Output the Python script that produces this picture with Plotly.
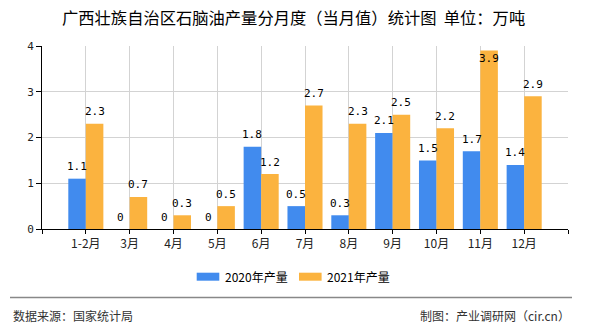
import plotly.graph_objects as go

# ---- data ----
categories = ["1-2月", "3月", "4月", "5月", "6月", "7月", "8月", "9月", "10月", "11月", "12月"]
values_2020 = [1.1, 0, 0, 0, 1.8, 0.5, 0.3, 2.1, 1.5, 1.7, 1.4]
values_2021 = [2.3, 0.7, 0.3, 0.5, 1.2, 2.7, 2.3, 2.5, 2.2, 3.9, 2.9]
series_names = ["2020年产量", "2021年产量"]
y_ticks = [0, 1, 2, 3, 4]

title_text = "广西壮族自治区石脑油产量分月度（当月值）统计图  单位：万吨"
source_text = "数据来源：国家统计局"
credit_text = "制图：产业调研网（cir.cn）"

colors = ["#418BEE", "#FBB33F"]
positions = list(range(1, len(categories) + 1))
Y_MAX = 4

CJK = "Noto Sans CJK SC"
MONO = "DejaVu Sans Mono"

fig = go.Figure()
for name, vals, col in zip(series_names, [values_2020, values_2021], colors):
    fig.add_trace(go.Bar(x=positions, y=vals, name=name, marker=dict(color=col, line=dict(width=0)),
                         showlegend=False, hoverinfo="x+y"))

# value labels
plot_h_px = 183
annotations = []
for k, vals in enumerate([values_2020, values_2021]):
    off = -0.2 if k == 0 else 0.2
    for p, v in zip(positions, vals):
        room = (Y_MAX - v) * plot_h_px / Y_MAX
        shift = 12 if room > 16 else -8
        annotations.append(dict(x=p + off, y=v, xref="x", yref="y", text="{:g}".format(v),
                                showarrow=False, yshift=shift, yanchor="middle",
                                font=dict(family=MONO, size=11, color="#000")))

# title & footer
annotations.append(dict(text=title_text, xref="paper", yref="paper", x=(293.5 - 42) / 526, y=(229 - 17) / 183,
                        xanchor="center", yanchor="middle", showarrow=False,
                        font=dict(family=CJK, size=16.3, color="#000")))
annotations.append(dict(text=source_text, xref="paper", yref="paper", x=(11 - 42) / 526, y=(229 - 315) / 183,
                        xanchor="left", yanchor="middle", showarrow=False,
                        font=dict(family=CJK, size=12, color="#333")))
annotations.append(dict(text=credit_text, xref="paper", yref="paper", x=(572 - 42) / 526, y=(229 - 315) / 183,
                        xanchor="right", yanchor="middle", showarrow=False,
                        font=dict(family=CJK, size=12, color="#333")))

# manual legend
shapes = []
leg_items = [(196.7, 223.0), (299.0, 325.0)]
for (rx, tx), name, col in zip(leg_items, series_names, colors):
    shapes.append(dict(type="rect", xref="paper", yref="paper",
                       x0=(rx - 42) / 526, x1=(rx + 22.6 - 42) / 526,
                       y0=(229 - 280.7) / 183, y1=(229 - 272.7) / 183,
                       fillcolor=col, line=dict(width=0)))
    annotations.append(dict(text=name, xref="paper", yref="paper", x=(tx - 42) / 526, y=(229 - 276.7) / 183,
                            xanchor="left", yanchor="middle", showarrow=False,
                            font=dict(family=CJK, size=12, color="#000")))

# footer separator
shapes.append(dict(type="line", xref="paper", yref="paper",
                   x0=(10 - 42) / 526, x1=(572 - 42) / 526,
                   y0=(229 - 297.5) / 183, y1=(229 - 297.5) / 183,
                   line=dict(color="#888", width=1.5)))

fig.update_layout(
    width=590, height=330,
    margin=dict(l=42, r=22, t=46, b=101, pad=0),
    paper_bgcolor="white", plot_bgcolor="white",
    barmode="group", bargap=0.2, bargroupgap=0,
    annotations=annotations, shapes=shapes,
    showlegend=False,
    xaxis=dict(range=[0, len(categories) + 1],
               tickmode="array", tickvals=[0] + positions + [len(categories) + 1],
               ticktext=[""] + categories + [""],
               showgrid=True, gridcolor="#D3D3D3", gridwidth=1,
               showline=True, linecolor="#000", linewidth=1,
               ticks="outside", ticklen=4, tickcolor="#000",
               tickfont=dict(family=CJK, size=12, color="#222"),
               zeroline=False, fixedrange=True),
    yaxis=dict(range=[0, Y_MAX], tickmode="array", tickvals=y_ticks,
               showgrid=True, gridcolor="#D3D3D3", gridwidth=1,
               showline=True, linecolor="#000", linewidth=1,
               ticks="outside", ticklen=5, tickcolor="#000",
               tickfont=dict(family=MONO, size=11, color="#222"),
               zeroline=False, fixedrange=True),
)

fig.write_html("out.html")
